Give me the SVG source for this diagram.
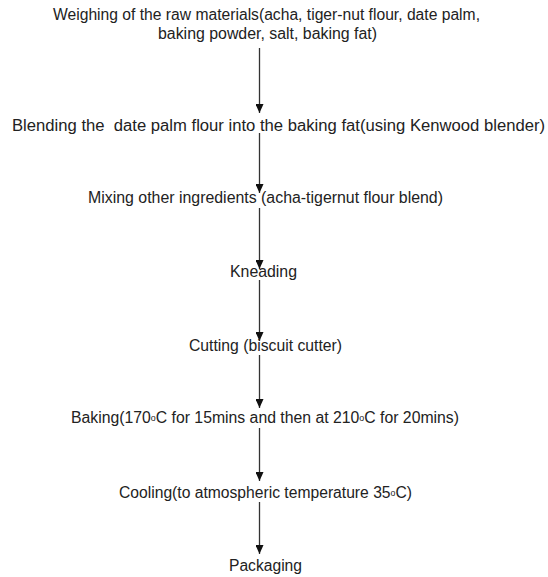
<svg xmlns="http://www.w3.org/2000/svg" width="548" height="577" viewBox="0 0 548 577">
<defs>
<marker id="ah" markerWidth="9" markerHeight="8" refX="9" refY="4" orient="auto" markerUnits="userSpaceOnUse" viewBox="0 0 9 8">
<path d="M0,0 L9,4 L0,8 Z" fill="#111"/>
</marker>
<style>
text{font-family:"Liberation Sans",Arial,sans-serif;font-size:16px;fill:#222}
.deg{font-size:9px}
line{stroke:#333;stroke-width:1.3}
</style>
</defs>
<rect width="548" height="577" fill="#fff"/>
<g id="connectors">
<line x1="259.5" y1="48" x2="259.5" y2="113" marker-end="url(#ah)"/>
<line x1="259.5" y1="133" x2="259.5" y2="193" marker-end="url(#ah)"/>
<line x1="259.5" y1="208" x2="259.5" y2="269" marker-end="url(#ah)"/>
<line x1="259.5" y1="280" x2="259.5" y2="341" marker-end="url(#ah)"/>
<line x1="259.5" y1="355" x2="259.5" y2="408" marker-end="url(#ah)"/>
<line x1="259.5" y1="428" x2="259.5" y2="481" marker-end="url(#ah)"/>
<line x1="259.5" y1="502" x2="259.5" y2="554" marker-end="url(#ah)"/>
</g>
<g id="n1"><text x="53" y="20" textLength="427" lengthAdjust="spacingAndGlyphs">Weighing of the raw materials(acha, tiger-nut flour, date palm,</text><text x="158" y="39" textLength="219" lengthAdjust="spacingAndGlyphs">baking powder, salt, baking fat)</text></g>
<g id="n2"><text x="12" y="131" textLength="533" lengthAdjust="spacingAndGlyphs" xml:space="preserve">Blending the  date palm flour into the baking fat(using Kenwood blender)</text></g>
<g id="n3"><text x="88" y="203" textLength="355" lengthAdjust="spacingAndGlyphs">Mixing other ingredients (acha-tigernut flour blend)</text></g>
<g id="n4"><text x="230" y="277" textLength="67" lengthAdjust="spacingAndGlyphs">Kneading</text></g>
<g id="n5"><text x="189" y="351" textLength="153" lengthAdjust="spacingAndGlyphs">Cutting (biscuit cutter)</text></g>
<g id="n6"><text x="71" y="423" textLength="388" lengthAdjust="spacingAndGlyphs">Baking(170<tspan class="deg" dy="-2">o</tspan><tspan dy="2">C for 15mins and then at 210</tspan><tspan class="deg" dy="-2">o</tspan><tspan dy="2">C for 20mins)</tspan></text></g>
<g id="n7"><text x="119" y="498" textLength="293" lengthAdjust="spacingAndGlyphs">Cooling(to atmospheric temperature 35<tspan class="deg" dy="-2">o</tspan><tspan dy="2">C)</tspan></text></g>
<g id="n8"><text x="229" y="571" textLength="73" lengthAdjust="spacingAndGlyphs">Packaging</text></g>
</svg>
